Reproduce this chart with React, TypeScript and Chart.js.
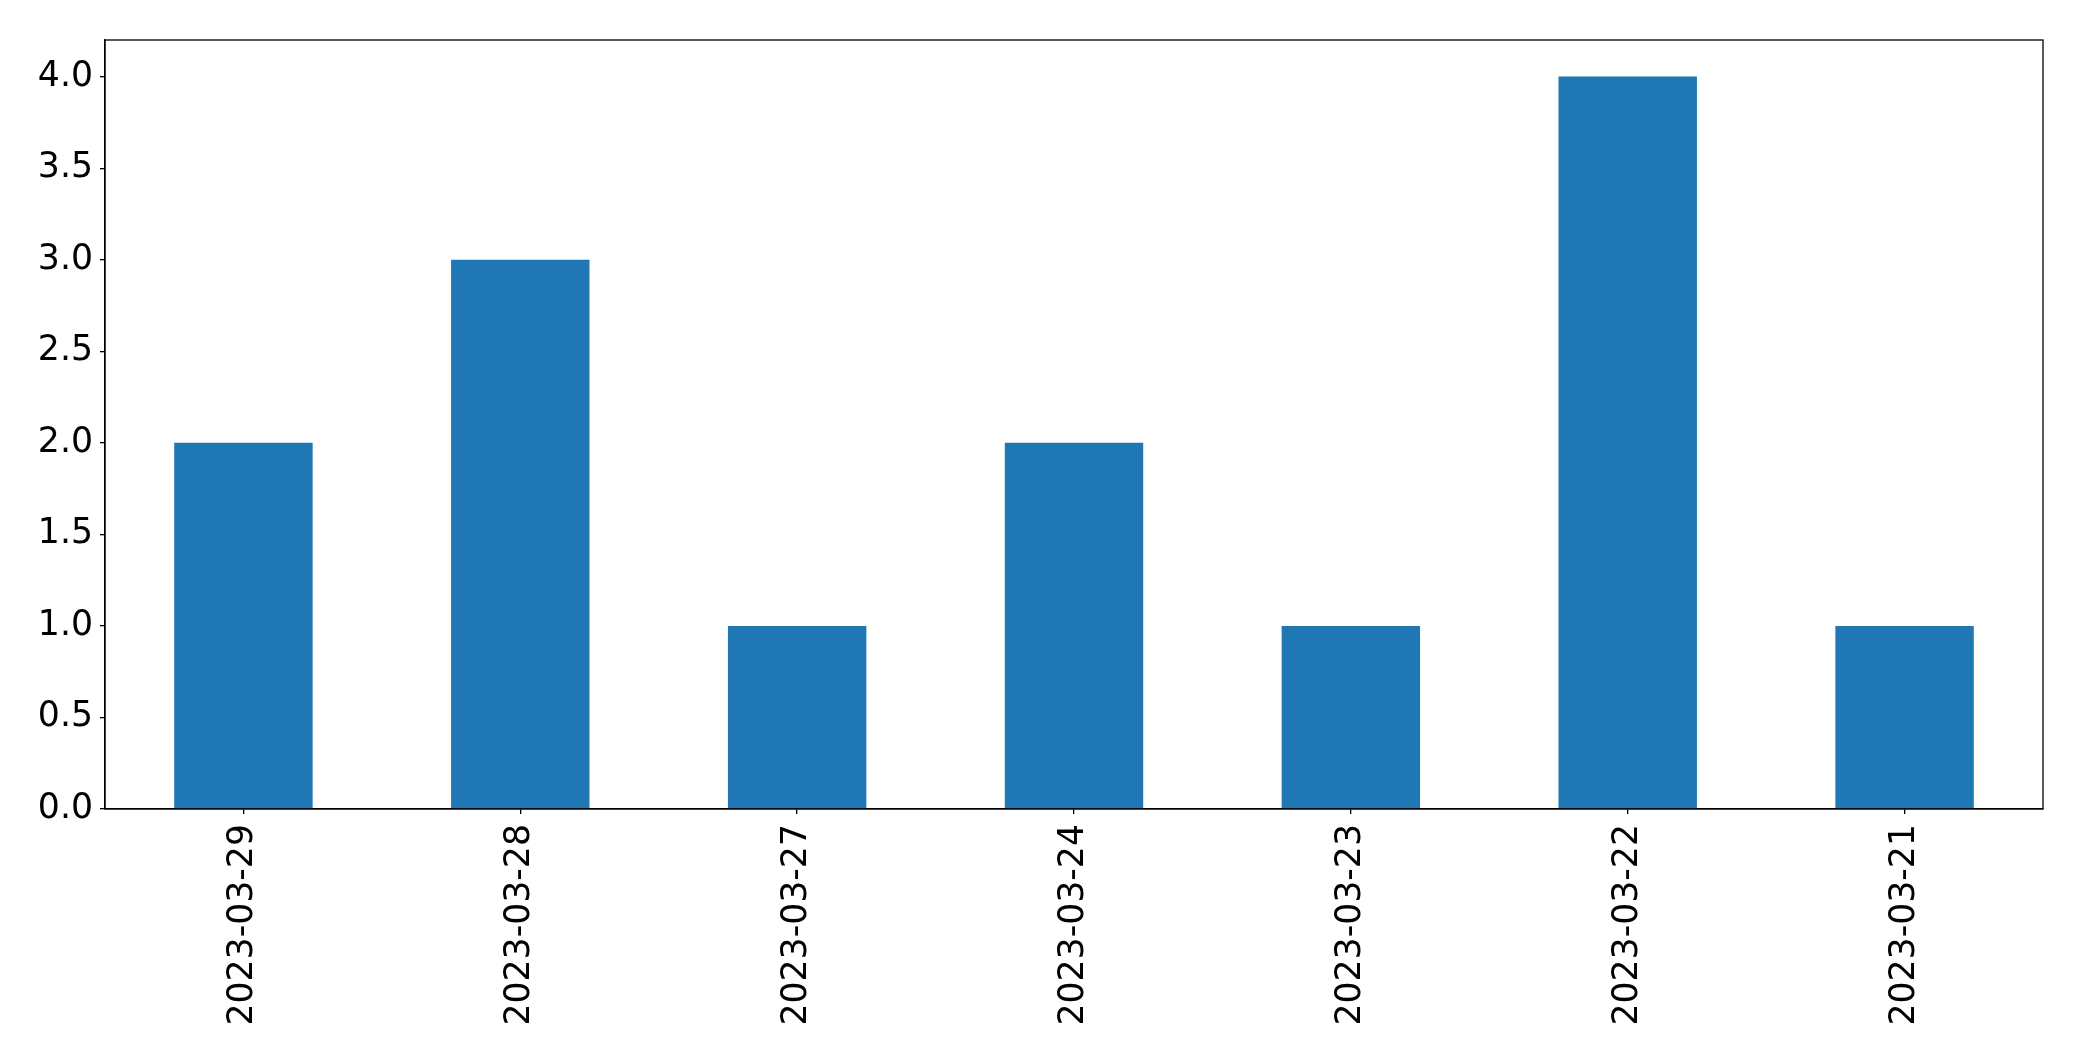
import React, { useEffect, useRef } from "react";
import { Chart, registerables } from "chart.js";

Chart.register(...registerables);

const categories = ["2023-03-29", "2023-03-28", "2023-03-27", "2023-03-24", "2023-03-23", "2023-03-22", "2023-03-21"];
const counts = [2, 3, 1, 2, 1, 4, 1];
const yMin = 0;
const yMax = 4.2;
const yStep = 0.5;

const W = 2082;
const H = 1061;
const AREA_LEFT = 105;
const AREA_TOP = 40;
const AREA_RIGHT = 2043;
const AREA_BOTTOM = 809;

const boxPlugin = {
  id: "boxPlugin",
  afterDatasetsDraw(chart: any) {
    const { ctx, chartArea } = chart;
    ctx.save();
    ctx.strokeStyle = "#000";
    ctx.lineWidth = 1.3;
    ctx.strokeRect(chartArea.left, chartArea.top, chartArea.right - chartArea.left, chartArea.bottom - chartArea.top);
    ctx.restore();
  },
};

export default function App() {
  const ref = useRef<HTMLCanvasElement>(null);
  useEffect(() => {
    if (!ref.current) return;
    const font = { family: "'DejaVu Sans', sans-serif", size: 34.7 };
    const chart = new Chart(ref.current, {
      type: "bar",
      data: {
        labels: categories,
        datasets: [
          {
            data: counts,
            backgroundColor: "#1f77b4",
            borderWidth: 0,
            barPercentage: 0.5,
            categoryPercentage: 1.0,
          },
        ],
      },
      plugins: [boxPlugin],
      options: {
        responsive: false,
        animation: false,
        devicePixelRatio: 1,
        layout: { padding: { left: 0, top: AREA_TOP, right: W - AREA_RIGHT, bottom: 0 } },
        plugins: { legend: { display: false }, tooltip: { enabled: false } },
        scales: {
          x: {
            type: "category",
            offset: true,
            grid: { display: true, offset: false, drawOnChartArea: false, drawTicks: true, tickLength: 5, color: "#000", lineWidth: 1.3 },
            border: { display: true, color: "#000", width: 1.3 },
            ticks: { color: "#000", font, minRotation: 90, maxRotation: 90, autoSkip: false, padding: 10 },
            afterFit(scale: any) {
              scale.height = H - AREA_BOTTOM;
            },
          },
          y: {
            min: yMin,
            max: yMax,
            grid: { display: true, drawOnChartArea: false, drawTicks: true, tickLength: 5, color: "#000", lineWidth: 1.3 },
            border: { display: true, color: "#000", width: 1.3 },
            ticks: {
              color: "#000",
              font,
              stepSize: yStep,
              includeBounds: false,
              padding: 7,
              callback: (v: any) => Number(v).toFixed(1),
            },
            afterFit(scale: any) {
              scale.width = AREA_LEFT;
            },
          },
        },
      },
    });
    return () => chart.destroy();
  }, []);
  return (
    <div style={{ position: "fixed", left: 0, top: 0, width: W, height: H, background: "#fff" }}>
      <canvas ref={ref} width={W} height={H} style={{ width: W, height: H, display: "block" }} />
    </div>
  );
}
